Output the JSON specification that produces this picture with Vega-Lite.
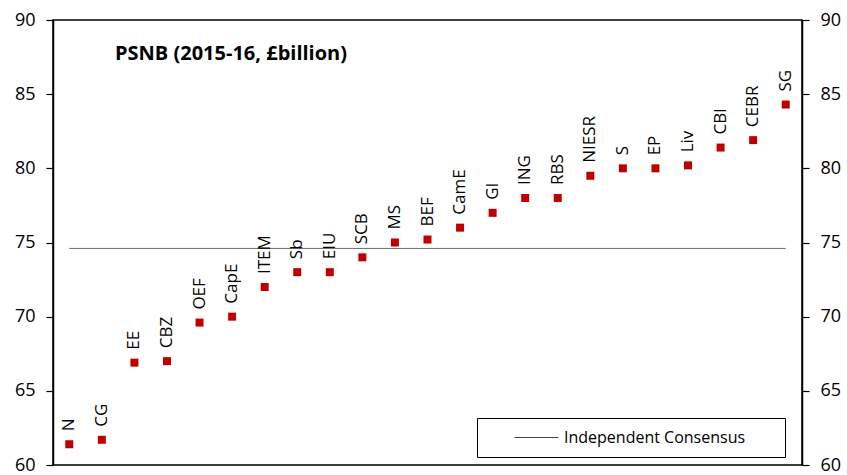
{
  "$schema": "https://vega.github.io/schema/vega-lite/v6.json",
  "width": 749,
  "height": 445,
  "autosize": {"type": "none"},
  "padding": {"left": 53, "top": 20, "right": 45, "bottom": 10},
  "background": "white",
  "config": {
    "font": "Open Sans",
    "view": {"stroke": "black", "strokeWidth": 1.5},
    "axis": {
      "grid": false,
      "title": null,
      "domainColor": "black",
      "domainWidth": 1.5,
      "tickColor": "black",
      "tickWidth": 1.2,
      "tickSize": 7,
      "labelFontSize": 18,
      "labelColor": "black",
      "labelPadding": 11
    }
  },
  "title": {
    "text": "PSNB (2015-16, £billion)",
    "anchor": "start",
    "frame": "group",
    "orient": "top",
    "offset": 0,
    "dx": 62,
    "dy": 69,
    "baseline": "alphabetic",
    "fontSize": 20,
    "fontWeight": "bold",
    "color": "black"
  },
  "datasets": {
    "forecasts": [
      {"name": "N", "psnb": 61.4},
      {"name": "CG", "psnb": 61.7},
      {"name": "EE", "psnb": 66.9},
      {"name": "CBZ", "psnb": 67.0},
      {"name": "OEF", "psnb": 69.6},
      {"name": "CapE", "psnb": 70.0},
      {"name": "ITEM", "psnb": 72.0},
      {"name": "Sb", "psnb": 73.0},
      {"name": "EIU", "psnb": 73.0},
      {"name": "SCB", "psnb": 74.0},
      {"name": "MS", "psnb": 75.0},
      {"name": "BEF", "psnb": 75.2},
      {"name": "CamE", "psnb": 76.0},
      {"name": "GI", "psnb": 77.0},
      {"name": "ING", "psnb": 78.0},
      {"name": "RBS", "psnb": 78.0},
      {"name": "NIESR", "psnb": 79.5},
      {"name": "S", "psnb": 80.0},
      {"name": "EP", "psnb": 80.0},
      {"name": "Liv", "psnb": 80.2},
      {"name": "CBI", "psnb": 81.4},
      {"name": "CEBR", "psnb": 81.9},
      {"name": "SG", "psnb": 84.3}
    ],
    "consensus": [
      {"label": "Independent Consensus", "first": "N", "last": "SG", "value": 74.6}
    ]
  },
  "layer": [
    {
      "data": {"name": "consensus"},
      "mark": {"type": "rule", "strokeWidth": 0.8},
      "encoding": {
        "x": {
          "field": "first",
          "type": "nominal",
          "scale": {
            "type": "point",
            "padding": 0.5,
            "domain": ["N", "CG", "EE", "CBZ", "OEF", "CapE", "ITEM", "Sb", "EIU", "SCB", "MS", "BEF", "CamE", "GI", "ING", "RBS", "NIESR", "S", "EP", "Liv", "CBI", "CEBR", "SG"]
          },
          "axis": null
        },
        "x2": {"field": "last"},
        "y": {
          "field": "value",
          "type": "quantitative",
          "scale": {"domain": [60, 90], "nice": false, "zero": false},
          "axis": {"orient": "right", "values": [60, 65, 70, 75, 80, 85, 90]}
        },
        "color": {
          "field": "label",
          "type": "nominal",
          "scale": {"range": ["#444444"]},
          "legend": {
            "orient": "none",
            "legendX": 424,
            "legendY": 398,
            "title": "\u00a0",
            "titleOrient": "right",
            "titlePadding": 29,
            "titleFontSize": 12,
            "strokeColor": "black",
            "fillColor": "white",
            "padding": 11,
            "clipHeight": 17,
            "symbolType": "stroke",
            "symbolSize": 1936,
            "symbolStrokeWidth": 1,
            "symbolStrokeColor": "#888888",
            "symbolOffset": 26,
            "labelOffset": 5,
            "labelFontSize": 16,
            "labelColor": "black",
            "labelLimit": 400
          }
        }
      }
    },
    {
      "data": {"name": "forecasts"},
      "mark": {"type": "square", "size": 64, "color": "#c00000", "opacity": 1},
      "encoding": {
        "x": {"field": "name", "type": "nominal", "sort": null, "axis": null},
        "y": {"field": "psnb", "type": "quantitative", "axis": {"orient": "left", "values": [60, 65, 70, 75, 80, 85, 90]}}
      }
    },
    {
      "data": {"name": "forecasts"},
      "mark": {"type": "text", "angle": 270, "align": "left", "baseline": "middle", "dx": 13, "fontSize": 17, "color": "black"},
      "encoding": {
        "x": {"field": "name", "type": "nominal", "sort": null, "axis": null},
        "y": {"field": "psnb", "type": "quantitative", "axis": null},
        "text": {"field": "name"}
      }
    }
  ],
  "resolve": {"axis": {"y": "independent"}}
}
